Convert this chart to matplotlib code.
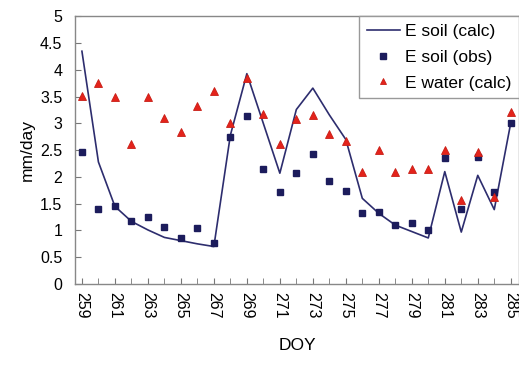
import matplotlib
matplotlib.use("Agg")
import matplotlib.pyplot as plt
from matplotlib.ticker import MultipleLocator

plt.rcParams['font.family'] = ['Liberation Sans', 'DejaVu Sans']

doy = list(range(259, 286))
e_soil_calc = [4.35, 2.28, 1.45, 1.17, 1.01, 0.87, 0.81, 0.75, 0.70, 2.78, 3.93,
               3.0, 2.07, 3.26, 3.66, 3.16, 2.70, 1.60, 1.32, 1.10, 0.98, 0.86,
               2.10, 0.97, 2.03, 1.39, 3.01]
e_soil_obs = [2.47, 1.40, 1.45, 1.17, 1.25, 1.07, 0.86, 1.04, 0.76, 2.75, 3.13,
              2.15, 1.71, 2.08, 2.43, 1.93, 1.73, 1.32, 1.35, 1.10, 1.14, 1.01,
              2.35, 1.40, 2.38, 1.72, 3.01]
e_water_calc = [3.51, 3.75, 3.49, 2.62, 3.50, 3.11, 2.84, 3.32, 3.60, 3.01, 3.85,
                3.17, 2.61, 3.08, 3.15, 2.80, 2.68, 2.10, 2.51, 2.10, 2.14, 2.14,
                2.51, 1.57, 2.47, 1.62, 3.21]
xtick_labels = [str(d) for d in range(259, 286, 2)]

fig = plt.figure(figsize=(5.19, 3.65), dpi=100)
ax = fig.add_axes([0.1445, 0.222, 0.8555, 0.733])

ax.plot(doy, e_soil_calc, color='#2d2d6e', lw=1.2, label='E soil (calc)', zorder=2)
ax.plot(doy, e_soil_obs, ls='none', marker='s', ms=5, color='#1c1c5c',
        label='E soil (obs)', zorder=3)
ax.plot(doy, e_water_calc, ls='none', marker='^', ms=5.6, color='#e4231b',
        mec='#c81e16', mew=0.6, label='E water (calc)', zorder=3)

ax.set_xlim(258.58, 285.5)
ax.set_ylim(0, 5)
ax.set_xticks(list(range(259, 286, 2)))
ax.set_xticklabels(xtick_labels, rotation=270, fontsize=11.5)
ax.xaxis.set_minor_locator(MultipleLocator(1))
ax.yaxis.set_major_locator(MultipleLocator(0.5))
ax.set_yticklabels([f"{v:g}" for v in ax.get_yticks()], fontsize=11.5)
ax.tick_params(axis='both', which='both', direction='in', color='#777777')
ax.tick_params(axis='x', which='major', length=4, pad=6)
ax.tick_params(axis='x', which='minor', length=4)
ax.tick_params(axis='y', length=4, pad=9)
for s in ax.spines.values():
    s.set_color('#888888')
    s.set_linewidth(1.0)

ax.set_xlabel('DOY', fontsize=12.5, labelpad=14)
ax.set_ylabel('mm/day', fontsize=12.5, labelpad=4)

leg = ax.legend(loc='upper right', bbox_to_anchor=(1.0, 1.0), borderaxespad=0,
                fontsize=12.5, fancybox=False, framealpha=1, edgecolor='#999999',
                handlelength=1.9, handletextpad=0.3, labelspacing=0.6,
                borderpad=0.45, markerscale=0.8)
leg.get_frame().set_linewidth(1.0)

fig.savefig('out.png', dpi=100)
